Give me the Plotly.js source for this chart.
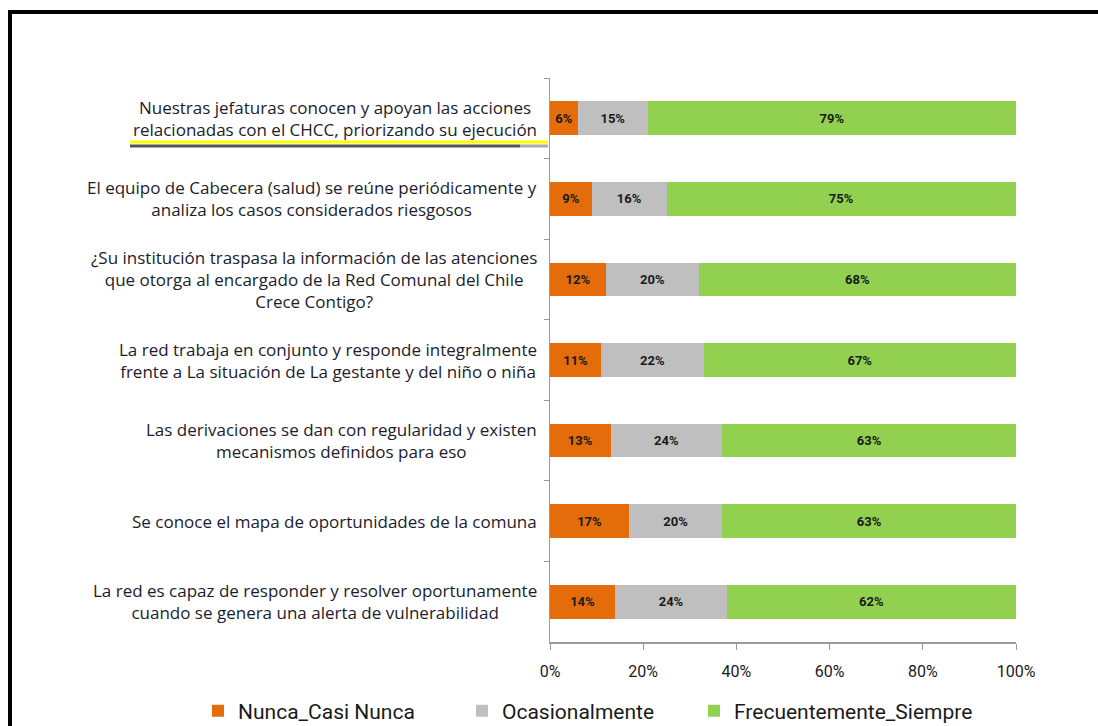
<!DOCTYPE html>
<html>
<head>
<meta charset="utf-8">
<script src="https://cdn.plot.ly/plotly-3.0.1.min.js"></script>
<style>
  html, body { margin: 0; padding: 0; background: #fff; }
  #chart { width: 1098px; height: 726px; }
  #frame { position: absolute; left: 8px; top: 10px; width: 1200px; height: 800px;
           border-left: 4px solid #000; border-top: 4px solid #000; pointer-events: none; }
</style>
</head>
<body>
<div id="chart"></div>
<div id="frame"></div>
<script>
const categories = [
  "Nuestras jefaturas conocen y apoyan las acciones<br>relacionadas con el CHCC, priorizando su ejecución",
  "El equipo de Cabecera (salud) se reúne periódicamente y<br>analiza los casos considerados riesgosos",
  "¿Su institución traspasa la información de las atenciones<br>que otorga al encargado de la Red Comunal del Chile<br>Crece Contigo?",
  "La red trabaja en conjunto y responde integralmente<br>frente a La situación de La gestante y del niño o niña",
  "Las derivaciones se dan con regularidad y existen<br>mecanismos definidos para eso",
  "Se conoce el mapa de oportunidades de la comuna",
  "La red es capaz de responder y resolver oportunamente<br>cuando se genera una alerta de vulnerabilidad"
];
const nunca = [6, 9, 12, 11, 13, 17, 14];
const ocasional = [15, 16, 20, 22, 24, 20, 24];
const frecuente = [79, 75, 68, 67, 63, 63, 62];
const seriesNames = ["Nunca_Casi Nunca", "Ocasionalmente", "Frecuentemente_Siempre"];
const seriesColors = ["#E46C0A", "#BFBFBF", "#92D050"];
const tickVals = [0, 20, 40, 60, 80, 100];
const tickText = ["0%", "20%", "40%", "60%", "80%", "100%"];

const ids = categories.map((c, i) => "c" + i);
const narrow = "Roboto, 'Liberation Sans', sans-serif";
const legendIds = ["legend", "legend2", "legend3"];
const legendLeft = [198, 462, 694];

const traces = [nunca, ocasional, frecuente].map((vals, k) => ({
  type: "bar",
  orientation: "h",
  name: seriesNames[k],
  legend: legendIds[k],
  y: ids,
  x: vals,
  marker: { color: seriesColors[k], line: { width: 0 } },
  text: vals.map(v => v + "%"),
  textposition: "inside",
  insidetextanchor: "middle",
  textangle: 0,
  constraintext: "none",
  textfont: { family: narrow, size: 13, color: "#1a1a1a", weight: "bold" },
  hoverinfo: "skip"
}));

const L = 550, R = 1016, T = 78, B = 642;
const px = v => (v - L) / (R - L);
const py = v => (B - v) / (B - T);

const annotations = categories.map((c, i) => ({
  xref: "paper", yref: "y",
  x: px(539), y: ids[i],
  xanchor: "right", yanchor: "middle",
  align: "center",
  text: c,
  showarrow: false,
  font: { family: "'Open Sans', sans-serif", size: 17, color: "#1c1c2c" }
}));

const shapes = [
  { type: "line", xref: "paper", yref: "paper", x0: px(130), x1: px(548), y0: py(142), y1: py(142),
    line: { color: "#FFFF00", width: 3 } },
  { type: "line", xref: "paper", yref: "paper", x0: px(130), x1: px(520), y0: py(146), y1: py(146),
    line: { color: "#555555", width: 3 } },
  { type: "line", xref: "paper", yref: "paper", x0: px(520), x1: px(548), y0: py(146), y1: py(146),
    line: { color: "#AAAAAA", width: 3 } }
];

const layout = {
  width: 1098, height: 726,
  margin: { l: L, r: 1098 - R, t: T, b: 726 - B, pad: 0, autoexpand: false },
  barmode: "stack",
  bargap: 0.58,
  paper_bgcolor: "#fff",
  plot_bgcolor: "#fff",
  showlegend: true,
  xaxis: {
    range: [0, 100],
    tickvals: tickVals, ticktext: tickText,
    showgrid: false, zeroline: false,
    showline: true, linecolor: "#9a9a9a", linewidth: 1.5,
    ticks: "outside", ticklen: 6, tickcolor: "#9a9a9a",
    ticklabelstandoff: 8,
    tickfont: { family: narrow, size: 16, color: "#1a1a1a" },
    fixedrange: true
  },
  yaxis: {
    type: "category",
    autorange: "reversed",
    showticklabels: false,
    showgrid: false, zeroline: false,
    showline: true, linecolor: "#9a9a9a", linewidth: 1.5,
    ticks: "outside", ticklen: 5, tickcolor: "#9a9a9a",
    tickson: "boundaries",
    fixedrange: true
  },
  annotations: annotations,
  shapes: shapes
};

legendIds.forEach((id, k) => {
  layout[id] = {
    orientation: "h",
    xref: "paper", yref: "paper",
    x: px(legendLeft[k]), y: py(711), xanchor: "left", yanchor: "middle",
    font: { family: narrow, size: 21, color: "#1a1a1a" },
    itemwidth: 30,
    bgcolor: "rgba(0,0,0,0)",
    borderwidth: 0
  };
});

Plotly.newPlot("chart", traces, layout, { displayModeBar: false, staticPlot: true });
</script>
</body>
</html>
